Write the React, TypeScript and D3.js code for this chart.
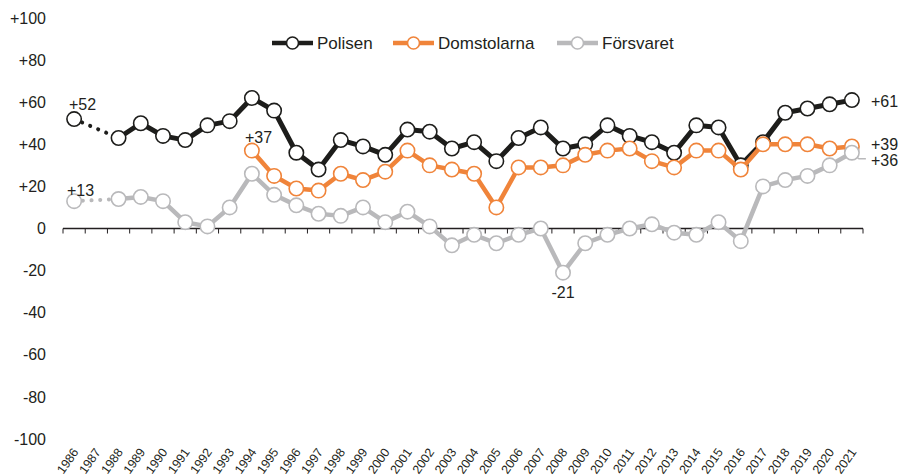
import React from "react";
import * as d3 from "d3";

const years = d3.range(1986, 2022).map(String);
const polisen: (number | null)[] = [52, null, 43, 50, 44, 42, 49, 51, 62, 56, 36, 28, 42, 39, 35, 47, 46, 38, 41, 32, 43, 48, 38, 40, 49, 44, 41, 36, 49, 48, 30, 41, 55, 57, 59, 61];
const domstolarna: (number | null)[] = [null, null, null, null, null, null, null, null, 37, 25, 19, 18, 26, 23, 27, 37, 30, 28, 26, 10, 29, 29, 30, 35, 37, 38, 32, 29, 37, 37, 28, 40, 40, 40, 38, 39];
const forsvaret: (number | null)[] = [13, null, 14, 15, 13, 3, 1, 10, 26, 16, 11, 7, 6, 10, 3, 8, 1, -8, -3, -7, -3, 0, -21, -7, -3, 0, 2, -2, -3, 3, -6, 20, 23, 25, 30, 36];
const yTicks = [100, 80, 60, 40, 20, 0, -20, -40, -60, -80, -100];

const series = [
  { name: "Polisen", values: polisen, color: "#1d1d1b", width: 5 },
  { name: "Domstolarna", values: domstolarna, color: "#f0843a", width: 4.5 },
  { name: "Försvaret", values: forsvaret, color: "#b9b9bb", width: 4.5 },
];

const W = 901, H = 475;
const x = d3.scaleBand<string>().domain(years).range([63, 863]);
const y = d3.scaleLinear().domain([-100, 100]).range([439, 18]);
const cx = (i: number) => (x(years[i]) as number) + x.bandwidth() / 2;
const font = "'Liberation Sans', Arial, sans-serif";

function fmt(v: number) {
  return v > 0 ? "+" + v : String(v);
}

export default function App() {
  const line = d3
    .line<number | null>()
    .defined((d) => d !== null)
    .x((_, i) => cx(i))
    .y((d) => y(d as number));

  const dotted = (vals: (number | null)[], color: string, key: string) => (
    <line
      key={key}
      x1={cx(0)}
      y1={y(vals[0] as number)}
      x2={cx(2)}
      y2={y(vals[2] as number)}
      stroke={color}
      strokeWidth={4}
      strokeLinecap="round"
      strokeDasharray="0.1 8.6"
    />
  );

  const legendItems = [
    { s: series[0], x0: 272 },
    { s: series[1], x0: 393 },
    { s: series[2], x0: 557 },
  ];

  const g36 = y(36);
  const last = cx(35);

  return (
    <svg width={W} height={H} style={{ position: "absolute", left: 0, top: 0 }} fontFamily={font}>
      <rect width={W} height={H} fill="#fff" />
      {yTicks.map((t) => (
        <text key={t} x={46} y={y(t)} dy="0.35em" textAnchor="end" fontSize={16} fill="#231f20">
          {fmt(t)}
        </text>
      ))}
      <line x1={63} x2={863} y1={y(0)} y2={y(0)} stroke="#231f20" strokeWidth={1.5} />
      {d3.range(0, years.length + 1).map((i) => {
        const xx = 63 + i * x.step();
        return <line key={i} x1={xx} x2={xx} y1={y(0)} y2={y(0) + 5} stroke="#231f20" strokeWidth={1} />;
      })}
      {years.map((yr, i) => (
        <text
          key={yr}
          transform={`translate(${cx(i) + 5},${452}) rotate(-55)`}
          textAnchor="end"
          fontSize={12.5}
          fill="#231f20"
        >
          {yr}
        </text>
      ))}
      {dotted(polisen, series[0].color, "dp")}
      {dotted(forsvaret, series[2].color, "df")}
      <polyline
        points={`${last},${g36} ${last + 7},${g36 + 6} ${last + 14},${g36 + 6}`}
        fill="none"
        stroke={series[2].color}
        strokeWidth={1.5}
      />
      {series.map((s) => (
        <g key={s.name}>
          <path d={line(s.values) || ""} fill="none" stroke={s.color} strokeWidth={s.width} strokeLinejoin="round" />
          {s.values.map((v, i) =>
            v === null ? null : (
              <circle key={i} cx={cx(i)} cy={y(v)} r={7.2} fill="#fff" stroke={s.color} strokeWidth={1.6} />
            )
          )}
        </g>
      ))}
      {legendItems.map(({ s, x0 }) => (
        <g key={s.name}>
          <line x1={x0} x2={x0 + 41} y1={43} y2={43} stroke={s.color} strokeWidth={4.5} />
          <circle cx={x0 + 20.5} cy={43} r={6} fill="#fff" stroke={s.color} strokeWidth={1.6} />
          <text x={x0 + 45} y={43} dy="0.35em" fontSize={17} fill="#231f20">
            {s.name}
          </text>
        </g>
      ))}
      <text x={69} y={110} fontSize={16} fill="#231f20">+52</text>
      <text x={67} y={196} fontSize={16} fill="#231f20">+13</text>
      <text x={245} y={143} fontSize={16} fill="#231f20">+37</text>
      <text x={cx(22)} y={298} textAnchor="middle" fontSize={16} fill="#231f20">-21</text>
      <text x={871} y={107} fontSize={16} fill="#231f20">+61</text>
      <text x={871} y={150} fontSize={16} fill="#231f20">+39</text>
      <text x={871} y={166} fontSize={16} fill="#231f20">+36</text>
    </svg>
  );
}
